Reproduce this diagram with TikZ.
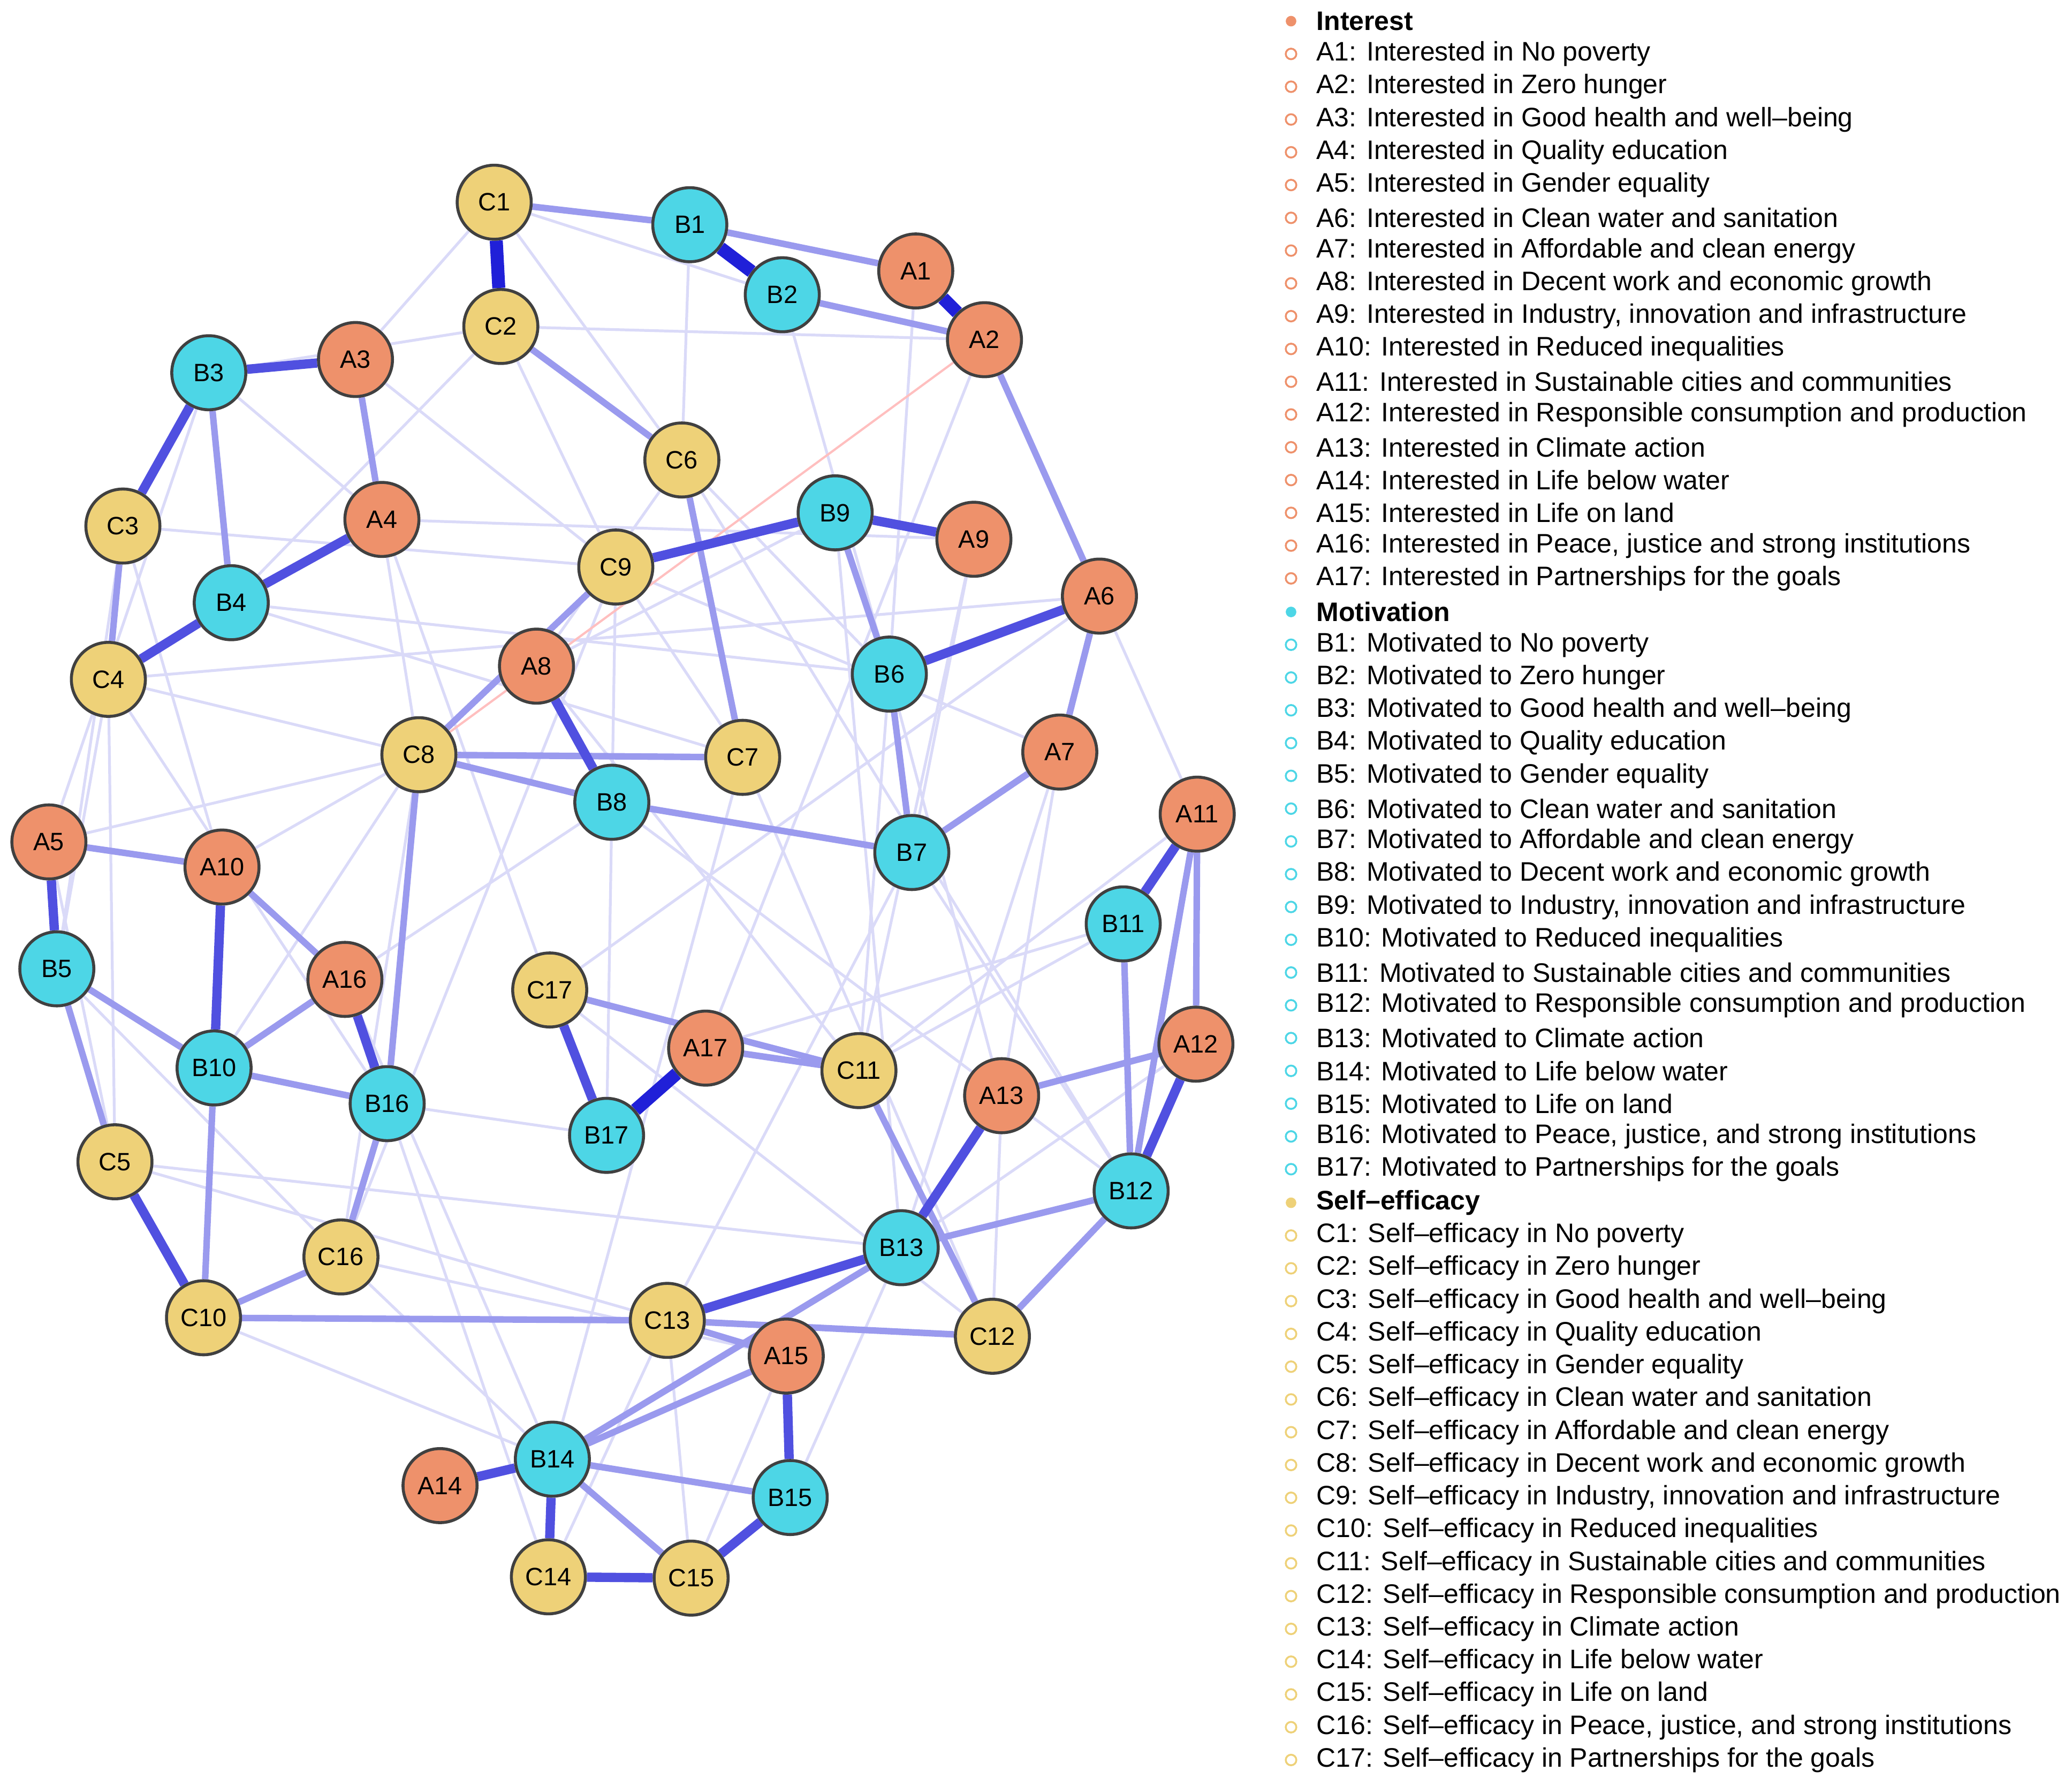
\documentclass[tikz,border=0pt]{standalone}
\usepackage{fontspec}
\setmainfont{Liberation Sans}
\pgfdeclarelayer{bg}
\pgfsetlayers{bg,main}
\definecolor{cI}{HTML}{EE916B}
\definecolor{cM}{HTML}{4DD6E6}
\definecolor{cS}{HTML}{EED178}
\definecolor{e1}{HTML}{2020D8}
\definecolor{e2}{HTML}{5050E0}
\definecolor{e3}{HTML}{9A9AEE}
\definecolor{e4}{HTML}{DADAF8}
\begin{document}
\begin{tikzpicture}[x=0.025cm,y=-0.025cm,
  nd/.style={circle,minimum size=1.4cm,inner sep=0pt,draw=black!75,line width=1.6pt,font=\fontsize{13.5}{15}\selectfont},
  nI/.style={nd,fill=cI},nM/.style={nd,fill=cM},nS/.style={nd,fill=cS},
  s1/.style={e1,line width=7pt},s2/.style={e2,line width=5pt},
  s3/.style={e3,line width=3.5pt},s4/.style={e4,line width=1.5pt},
  lg/.style={anchor=west,font=\fontsize{14.4}{16}\selectfont,inner sep=0pt}]
\useasboundingbox (0,0) rectangle (1568,1351);
\foreach \n/\x/\y in {A1/693/205,A2/745/257,A3/269/272,A4/289/393,A9/737/408,A6/832/451,A8/406/504,A7/802/569,A11/906/616,A5/37/637,A10/168/656,A16/261/741,A17/534/793,A12/905/790,A13/758/829,A15/595/1026,A14/333/1124}
  \node[nI] (\n) at (\x,\y) {\n};
\foreach \n/\x/\y in {B1/522/170,B2/592/223,B3/158/282,B9/632/388,B4/175/456,B6/673/510,B8/463/607,B7/690/645,B11/850/699,B5/43/733,B10/162/808,B16/293/835,B17/459/859,B12/856/901,B13/682/944,B14/418/1104,B15/598/1133}
  \node[nM] (\n) at (\x,\y) {\n};
\foreach \n/\x/\y in {C1/374/153,C2/379/247,C6/516/348,C3/93/398,C9/466/429,C4/82/514,C8/317/571,C7/562/573,C17/416/749,C11/650/810,C5/87/879,C16/258/951,C10/154/997,C13/505/999,C12/751/1011,C14/415/1193,C15/523/1194}
  \node[nS] (\n) at (\x,\y) {\n};
\begin{pgfonlayer}{bg}
\foreach \a/\b in {C1/A3,C1/C6,C2/B3,C2/A2,C2/C9,C2/B4,A3/C9,A3/C8,B3/A4,C3/C9,C3/A10,C4/C8,C4/A6,B4/B6,B4/C7,A4/A9,C9/C7,C9/C16,C9/A7,C6/B6,C6/A8,B9/B13,A9/B7,A9/C11,B6/A13,B6/C11,A6/A11,A7/A13,A7/B13,A11/C11,B11/C11,B11/A17,A12/B13,B7/B12,B7/C13,A8/C11,C8/C16,C8/B10,C8/A5,C7/C12,C7/B14,B8/A16,B8/B12,A10/C10,A10/C8,A5/C5,B5/C16,B5/C4,A16/B14,C17/C12,B16/B17,B16/C14,C16/A15,C16/B14,C10/B14,C5/C13,C5/B13,C13/C14,C13/C15,A15/C15,B13/B15,C12/A13,B2/B6,A1/B6,B1/C6,C1/B2,A2/A17,A6/C17,B9/A8,C6/B12,C4/B16,A4/C17,B3/A5,C3/B5,C4/C5,C9/B17}
  \draw[s4] (\a) -- (\b);
\draw[red!25,line width=1.2pt] (C8) -- (A2);
\foreach \a/\b in {C2/C6,C6/C7,B6/B7,B7/A7,A7/A6,B8/B7,C8/C7,C8/B8,C8/C9,A5/A10,B5/B10,B10/B16,B10/C10,A11/A12,B11/B12,B12/C12,B12/B13,B14/B15,A15/B14,A2/A6,B2/A2,C1/B1,B1/A1,A3/A4,B3/B4,C3/C4,B16/C16,C16/C10,C10/C13,C13/C12,C17/C11,A17/C11,A10/A16,B4/C4,C5/C10,B9/B6,A13/A12,C11/C12,B13/B14,C15/B14,C8/B16,A16/B10,B5/C5,A11/B12,C13/A15}
  \draw[s3] (\a) -- (\b);
\foreach \a/\b in {B3/A3,B3/C3,C4/B4,B4/A4,B9/A9,A5/B5,A10/B10,A8/B8,A16/B16,C17/B17,B11/A11,A12/B12,B13/A13,A14/B14,B15/A15,C14/B14,C14/C15,C15/B15,B13/C13,B6/A6,C9/B9,C10/C5}
  \draw[s2] (\a) -- (\b);
\foreach \a/\b in {C1/C2,B1/B2,A1/A2,A17/B17}
  \draw[s1] (\a) -- (\b);
\end{pgfonlayer}
% legend
\node[lg] (hI) at (996,16) {\textbf{Interest}};
\fill[cI] (977,16) circle (4);
\foreach \t [count=\i] in {No poverty,Zero hunger,Good health and well--being,Quality education,Gender equality,Clean water and sanitation,Affordable and clean energy,Decent work and economic growth,{Industry, innovation and infrastructure},Reduced inequalities,Sustainable cities and communities,Responsible consumption and production,Climate action,Life below water,Life on land,{Peace, justice and strong institutions},Partnerships for the goals}
  {\node[lg] (lA\i) at (996,16+24.8*\i) {A\i: Interested in \t};
   \draw[cI,line width=1pt] (977,16+24.8*\i) circle (4);}
\node[lg] (hM) at (996,463) {\textbf{Motivation}};
\fill[cM] (977,463) circle (4);
\foreach \t [count=\i] in {No poverty,Zero hunger,Good health and well--being,Quality education,Gender equality,Clean water and sanitation,Affordable and clean energy,Decent work and economic growth,{Industry, innovation and infrastructure},Reduced inequalities,Sustainable cities and communities,Responsible consumption and production,Climate action,Life below water,Life on land,{Peace, justice, and strong institutions},Partnerships for the goals}
  {\node[lg] (lB\i) at (996,463+24.8*\i) {B\i: Motivated to \t};
   \draw[cM,line width=1pt] (977,463+24.8*\i) circle (4);}
\node[lg] (hS) at (996,910) {\textbf{Self--efficacy}};
\fill[cS] (977,910) circle (4);
\foreach \t [count=\i] in {No poverty,Zero hunger,Good health and well--being,Quality education,Gender equality,Clean water and sanitation,Affordable and clean energy,Decent work and economic growth,{Industry, innovation and infrastructure},Reduced inequalities,Sustainable cities and communities,Responsible consumption and production,Climate action,Life below water,Life on land,{Peace, justice, and strong institutions},Partnerships for the goals}
  {\node[lg] (lC\i) at (996,910+24.8*\i) {C\i: Self--efficacy in \t};
   \draw[cS,line width=1pt] (977,910+24.8*\i) circle (4);}
\end{tikzpicture}
\end{document}
